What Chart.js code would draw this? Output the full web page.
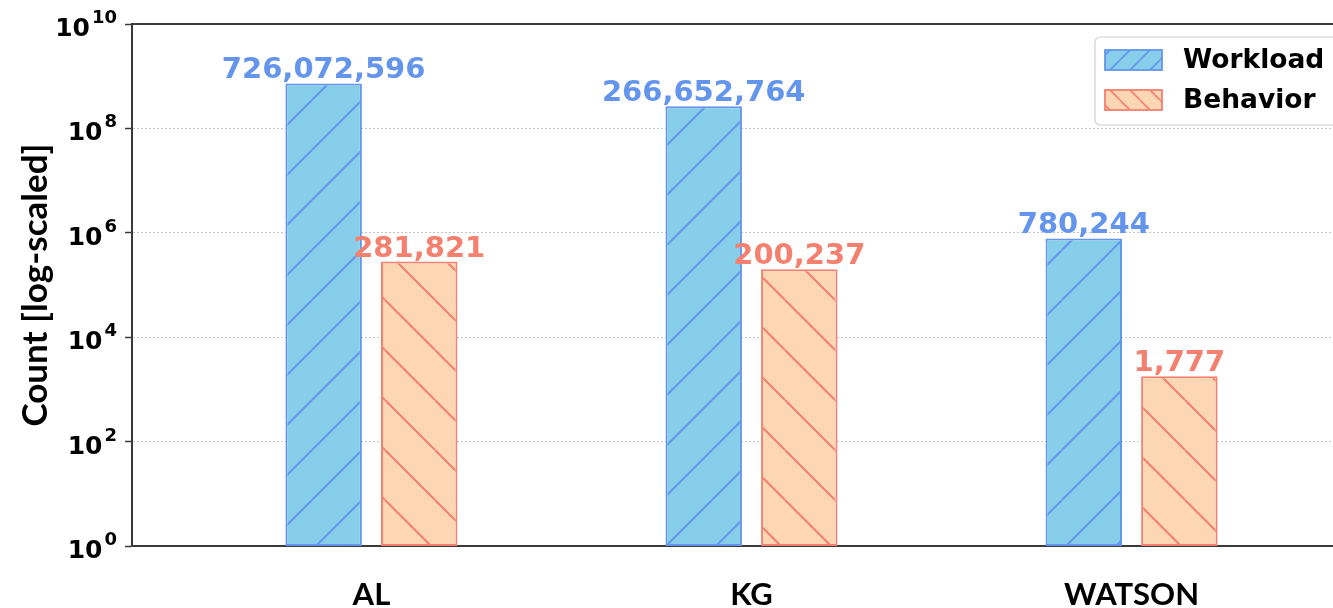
<!DOCTYPE html>
<html>
<head>
<meta charset="utf-8">
<script src="https://cdn.jsdelivr.net/npm/chart.js@4.4.1/dist/chart.umd.min.js"></script>
<style>
  html, body { margin: 0; padding: 0; background: #ffffff; overflow: hidden; }
  canvas { display: block; }
</style>
</head>
<body>
<canvas id="c" width="1333" height="608"></canvas>
<script>
// ---- data ----
const categories = ['AL', 'KG', 'WATSON'];
const categoryPositions = [0, 1, 2];
const seriesNames = ['Workload', 'Behavior'];
const workloadCounts = [726072596, 266652764, 780244];
const behaviorCounts = [281821, 200237, 1777];
const yTickExponents = [0, 2, 4, 6, 8, 10];
const yTitle = 'Count [log-scaled]';

// ---- styling ----
const BLUE_FILL = '#87CEEB';
const BLUE_EDGE = '#6495ED';
const ORANGE_FILL = '#FDD6B4';
const ORANGE_EDGE = '#F4806F';
const AXIS_COLOR = '#3a3a3a';
const VALUE_FONT = 'bold 29px "DejaVu Sans"';
const LEGEND_FONT = 'bold 26.5px "DejaVu Sans"';

// diagonal hatch fill: '/' or '\' lines over a solid colour
function hatch(fill, stroke, dir, size, lw, shiftX) {
  const c = document.createElement('canvas');
  c.width = size; c.height = size;
  const g = c.getContext('2d');
  g.fillStyle = fill;
  g.fillRect(0, 0, size, size);
  g.strokeStyle = stroke;
  g.lineWidth = lw;
  g.beginPath();
  for (let k = -1; k <= 1; k++) {
    if (dir === '/') { g.moveTo(k * size, size); g.lineTo(k * size + size, 0); }
    else { g.moveTo(k * size, 0); g.lineTo(k * size + size, size); }
  }
  g.stroke();
  const p = g.createPattern(c, 'repeat');
  if (shiftX) p.setTransform(new DOMMatrix().translate(shiftX, 0));
  return p;
}

const workloadHatch = hatch(BLUE_FILL, BLUE_EDGE, '/', 50, 2, 12);
const behaviorHatch = hatch(ORANGE_FILL, ORANGE_EDGE, '\\', 50, 2, 35);
const workloadLegendHatch = hatch(BLUE_FILL, BLUE_EDGE, '/', 20, 1.6, 0);
const behaviorLegendHatch = hatch(ORANGE_FILL, ORANGE_EDGE, '\\', 20, 1.6, 0);

const seriesValues = [workloadCounts, behaviorCounts];
const labelColors = [BLUE_EDGE, ORANGE_EDGE];
const legendFills = [workloadLegendHatch, behaviorLegendHatch];

// value annotations above each bar
const valueLabels = {
  id: 'valueLabels',
  afterDatasetsDraw(chart) {
    const ctx = chart.ctx;
    ctx.save();
    ctx.font = VALUE_FONT;
    ctx.textAlign = 'center';
    ctx.textBaseline = 'alphabetic';
    chart.data.datasets.forEach((ds, di) => {
      const meta = chart.getDatasetMeta(di);
      ctx.fillStyle = labelColors[di];
      meta.data.forEach((bar, i) => {
        ctx.fillText(seriesValues[di][i].toLocaleString('en-US'), bar.x, bar.y - 5);
      });
    });
    ctx.restore();
  }
};

// power-of-ten tick labels, axis title, top spine and legend
const decorations = {
  id: 'decorations',
  afterDraw(chart) {
    const ctx = chart.ctx;
    const area = chart.chartArea;
    const y = chart.scales.y;
    ctx.save();

    // top spine
    ctx.strokeStyle = AXIS_COLOR;
    ctx.lineWidth = 2;
    ctx.beginPath();
    ctx.moveTo(area.left - 1, area.top);
    ctx.lineTo(area.right + 2, area.top);
    ctx.stroke();

    // y tick labels 10^n
    ctx.fillStyle = '#000';
    ctx.textAlign = 'right';
    ctx.textBaseline = 'alphabetic';
    const rightEdge = area.left - 15;
    yTickExponents.forEach(e => {
      const py = y.getPixelForValue(Math.pow(10, e));
      const exp = String(e);
      ctx.font = 'bold 18px "DejaVu Sans"';
      const ew = ctx.measureText(exp).width;
      ctx.fillText(exp, rightEdge, py - 1);
      ctx.font = 'bold 25px "DejaVu Sans"';
      ctx.fillText('10', rightEdge - ew - 2, py + 12);
    });

    // y axis title
    ctx.save();
    ctx.translate(36, (area.top + area.bottom) / 2);
    ctx.rotate(-Math.PI / 2);
    ctx.textAlign = 'center';
    ctx.textBaseline = 'middle';
    ctx.font = 'bold 35px Lato';
    ctx.fillText(yTitle, 0, 0);
    ctx.restore();

    // legend
    const lx = 1095, ly = 37, lw = 260, lh = 88;
    ctx.fillStyle = 'rgba(255,255,255,0.85)';
    ctx.strokeStyle = '#d0d0d0';
    ctx.lineWidth = 1.2;
    ctx.beginPath();
    ctx.roundRect(lx, ly, lw, lh, 5);
    ctx.fill();
    ctx.stroke();
    chart.data.datasets.forEach((ds, di) => {
      const cy = 60 + di * 40;
      ctx.fillStyle = legendFills[di];
      ctx.fillRect(1105, cy - 10, 57, 20);
      ctx.strokeStyle = ds.borderColor;
      ctx.lineWidth = 1.8;
      ctx.strokeRect(1105, cy - 10, 57, 20);
      ctx.fillStyle = '#000';
      ctx.font = LEGEND_FONT;
      ctx.textAlign = 'left';
      ctx.textBaseline = 'middle';
      ctx.fillText(ds.label, 1183, cy + 1);
    });

    ctx.restore();
  }
};

new Chart(document.getElementById('c').getContext('2d'), {
  type: 'bar',
  data: {
    datasets: [
      {
        label: seriesNames[0],
        data: categoryPositions.map((x, i) => ({ x, y: workloadCounts[i] })),
        backgroundColor: workloadHatch,
        borderColor: BLUE_EDGE,
        borderWidth: 2,
        borderSkipped: false,
        categoryPercentage: 0.503,
        barPercentage: 0.8
      },
      {
        label: seriesNames[1],
        data: categoryPositions.map((x, i) => ({ x, y: behaviorCounts[i] })),
        backgroundColor: behaviorHatch,
        borderColor: ORANGE_EDGE,
        borderWidth: 2,
        borderSkipped: false,
        categoryPercentage: 0.503,
        barPercentage: 0.8
      }
    ]
  },
  options: {
    responsive: false,
    animation: false,
    devicePixelRatio: 1,
    layout: { padding: { top: 24, right: 0, left: 0, bottom: 0 } },
    plugins: { legend: { display: false }, tooltip: { enabled: false } },
    scales: {
      x: {
        type: 'linear',
        offset: false,
        min: -0.63,
        max: 2.53,
        afterBuildTicks: s => { s.ticks = categoryPositions.map(v => ({ value: v })); },
        afterFit: s => { s.height = 62; },
        grid: { display: false, drawTicks: false, offset: false },
        border: { display: true, color: AXIS_COLOR, width: 2 },
        ticks: {
          callback: v => categories[v] ?? '',
          font: { family: 'Lato', weight: 'bold', size: 31 },
          color: '#000',
          padding: 30,
          maxRotation: 0,
          autoSkip: false
        }
      },
      y: {
        type: 'logarithmic',
        min: 1,
        max: 1e10,
        afterBuildTicks: s => { s.ticks = yTickExponents.map(e => ({ value: Math.pow(10, e) })); },
        afterFit: s => { s.width = 132; },
        grid: {
          color: c => (c.tick && (c.tick.value === 1 || c.tick.value === 1e10)) ? 'rgba(0,0,0,0)' : '#c4c4c4',
          lineWidth: 1,
          drawTicks: true,
          tickLength: 7,
          tickColor: AXIS_COLOR,
          tickWidth: 1.5
        },
        border: { display: true, color: AXIS_COLOR, width: 2, dash: [2, 2] },
        ticks: { display: false }
      }
    }
  },
  plugins: [valueLabels, decorations]
});
</script>
</body>
</html>
